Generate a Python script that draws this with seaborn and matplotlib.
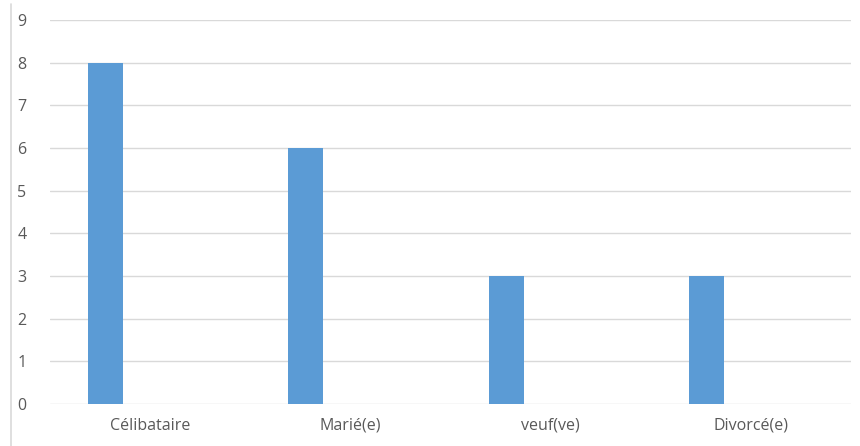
import numpy as np
import pandas as pd
import matplotlib
matplotlib.use("Agg")
import matplotlib.pyplot as plt
from matplotlib.lines import Line2D
import seaborn as sns

categories = ["Célibataire", "Marié(e)", "veuf(ve)", "Divorcé(e)"]
values = [8, 6, 3, 3]
yticks = [0, 1, 2, 3, 4, 5, 6, 7, 8, 9]

sns.set_theme(style="white")
plt.rcParams['font.family'] = ['Open Sans', 'DejaVu Sans']

fig = plt.figure(figsize=(8.6, 4.46), dpi=100)
ax = fig.add_axes([50/860, 1 - 404/446, 801/860, 384/446])

offset = -0.2225
pos = np.arange(len(categories)) + offset
df = pd.DataFrame({"pos": pos, "val": values})
sns.barplot(data=df, x="pos", y="val", native_scale=True, width=0.175,
            color="#5b9bd5", saturation=1, ax=ax, zorder=3, edgecolor="none")

ax.set_xlim(-0.5, len(categories) - 0.5)
ax.set_ylim(0, 9)
ax.set_yticks(yticks)
ax.set_xticks(np.arange(len(categories)))
ax.set_xticklabels(categories)
ax.set_xlabel("")
ax.set_ylabel("")
ax.grid(axis="y", color="#d9d9d9", linewidth=1, zorder=0)
ax.grid(axis="x", visible=False)
for s in ["top", "right", "left", "bottom"]:
    ax.spines[s].set_visible(False)
ax.tick_params(axis="both", length=0, colors="#595959", labelsize=11.5)
ax.tick_params(axis="y", pad=17)
ax.tick_params(axis="x", pad=10)

fig.add_artist(Line2D([11/860, 11/860], [0, 1 - 4/446], transform=fig.transFigure,
                      color="#d9d9d9", linewidth=1.2))

fig.savefig("out.png", dpi=100)
